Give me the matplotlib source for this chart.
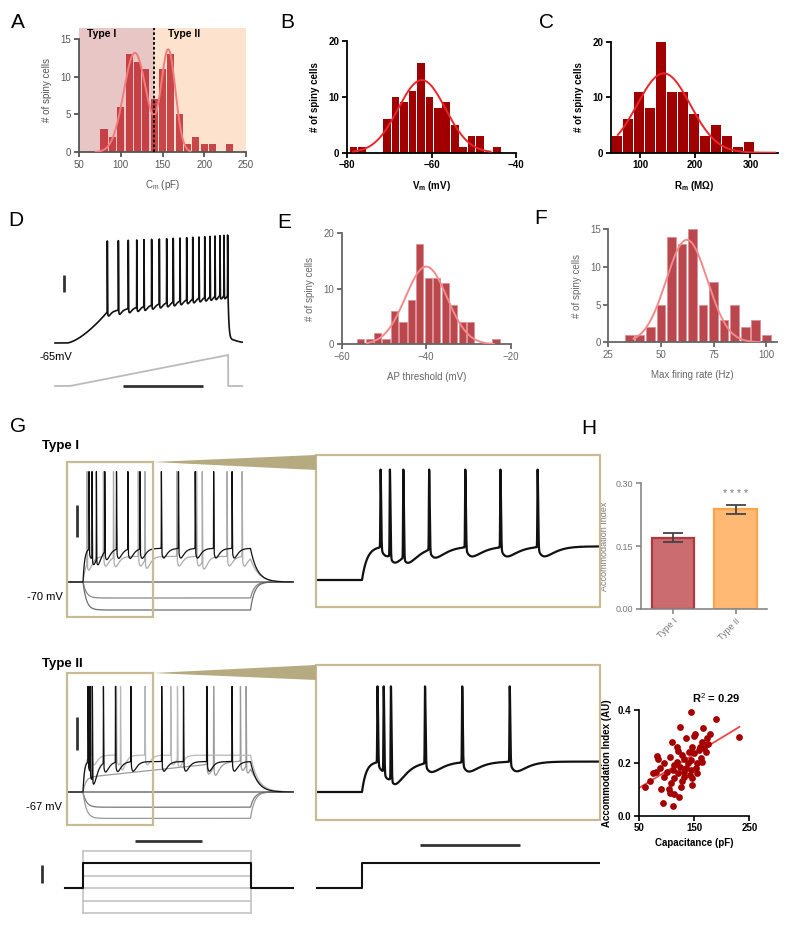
import numpy as np
import matplotlib
matplotlib.use("Agg")
import matplotlib.pyplot as plt
from matplotlib.patches import Rectangle, Polygon

plt.rcParams['font.family'] = ['Liberation Sans', 'DejaVu Sans']
plt.rcParams['mathtext.fontset'] = 'custom'
plt.rcParams['mathtext.rm'] = 'Liberation Sans'
plt.rcParams['mathtext.it'] = 'Liberation Sans:italic'
plt.rcParams['mathtext.bf'] = 'Liberation Sans:bold'

# ======================= DATA =======================
# A: membrane capacitance
cm_bins = [80, 90, 100, 110, 120, 130, 140, 150, 160, 170, 180, 190, 200, 210, 220, 230]
cm_counts = [3, 2, 6, 13, 12, 11, 7, 11, 13, 5, 1, 2, 1, 1, 0, 1]
cm_fit = [(13.2, 117, 13.5), (13.5, 157, 8.5)]   # two-gaussian fit (amp, mean, sd)
cm_fit_range = [70, 183]
cm_split = 140

# B: resting membrane potential
vm_bins = [-78.5, -76.5, -70.5, -68.5, -66.5, -64.5, -62.5, -60.5, -58.5, -56.5, -54.5, -52.5, -50.5, -48.5, -44.5]
vm_counts = [1, 1, 6, 10, 9, 11, 16, 10, 8, 9, 5, 1, 3, 3, 1]
vm_fit = (13.0, -62.3, 5.6)
vm_fit_range = [-78.5, -46]

# C: membrane resistance
rm_bins = [58, 78, 98, 118, 138, 158, 178, 198, 218, 238, 258, 278, 298]
rm_counts = [3, 6, 11, 8, 20, 11, 11, 7, 3, 5, 3, 1, 2]
rm_fit = (14.3, 143, 48)
rm_fit_range = [60, 345]

# E: AP threshold
ap_bins = [-55.5, -53.5, -51.5, -49.5, -47.5, -45.5, -43.5, -41.5, -39.5, -37.5, -35.5, -33.5, -31.5, -29.5, -23.5]
ap_counts = [1, 1, 2, 1, 6, 4, 8, 18, 12, 12, 11, 7, 4, 4, 1]
ap_fit = (14.0, -40.0, 4.9)
ap_fit_range = [-54, -24]

# F: max firing rate
fr_bins = [35, 40, 45, 50, 55, 60, 65, 70, 75, 80, 85, 90, 95, 100]
fr_counts = [1, 1, 2, 5, 14, 13, 15, 5, 8, 3, 5, 2, 3, 1]
fr_fit = (13.6, 62.3, 9.8)
fr_fit_range = [37, 97]

# H: accommodation index
acc_groups = ['Type I', 'Type II']
acc_mean = [0.170, 0.237]
acc_sem = [0.011, 0.011]

cap_pf = [145, 189, 232, 124, 166, 152, 178, 110, 136, 173, 165, 82, 85, 107, 121, 131,
          147, 150, 159, 168, 171, 162, 144, 138, 125, 114, 111, 120, 132, 144, 153, 156,
          165, 80, 96, 114, 132, 147, 147, 126, 108, 90, 107, 114, 123, 94, 111, 61,
          128, 140, 135, 118, 155, 142, 128, 100, 160, 175, 150, 104, 118, 95, 70, 75, 88]
acc_idx = [0.394, 0.365, 0.297, 0.335, 0.331, 0.309, 0.309, 0.280, 0.293, 0.293, 0.280, 0.226,
           0.214, 0.221, 0.246, 0.214, 0.261, 0.236, 0.249, 0.255, 0.242, 0.217, 0.211, 0.198,
           0.186, 0.192, 0.173, 0.161, 0.167, 0.173, 0.180, 0.161, 0.205, 0.167, 0.148, 0.142,
           0.148, 0.142, 0.116, 0.110, 0.123, 0.100, 0.087, 0.082, 0.070, 0.049, 0.038, 0.110,
           0.230, 0.240, 0.180, 0.205, 0.200, 0.155, 0.130, 0.165, 0.260, 0.270, 0.300, 0.100,
           0.260, 0.200, 0.130, 0.160, 0.180]
fit_x = [50, 232]
fit_y = [0.105, 0.336]
r2_text = 'R$^{2}$ = 0.29'

# D: ramp-evoked firing
d_rest = -65.0
d_depol_start = 75
d_first_v = -28.5
d_end_v = -6.0
d_spike_ms = [327, 396, 458, 511, 556, 604, 652, 698, 739, 781, 823, 861, 900, 936, 969,
              1000, 1031, 1056, 1079]
d_peak_mv = [55, 62]
d_ramp_ms = [94, 1082]
d_ramp_pa = 300
d_t_range = [0, 1170]

# G: step-evoked firing
g_step_ms = [0, 500]
g_stim_pa = [-100, -50, 0, 50, 100, 150]
g_stim_black_pa = 100
t1_rest = -70.0
t1_hyper = [-80.0, -87.5]
t1_black_spikes = [18, 27, 40, 65, 100, 134, 170, 234, 285, 335, 390, 445]
t1_black_plateau = -49.0
t1_gray_spikes = [12, 61, 91, 165, 185, 280, 339, 356, 430, 475]
t1_gray_plateau = -54.0
t1_peak = -1.0
t2_rest = -67.0
t2_hyper = [-76.5, -83.5]
t2_black_spikes = [15, 21, 28, 61, 97, 143, 235, 300, 370, 445]
t2_black_plateau = -48.0
t2_gray_a_spikes = [26, 100, 112, 185, 262, 282]
t2_gray_a_plateau = -44.0
t2_gray_b_spikes = [369, 390, 470, 487]
t2_gray_b_plateau = -58.0
t2_gray_b_drift = 11.0
t2_peak = -1.0

# ======================= FIGURE =======================
W, H = 800, 932
fig = plt.figure(figsize=(W / 100, H / 100), dpi=100)


def px_axes(x0, y0, x1, y1):
    return fig.add_axes([x0 / W, 1 - y1 / H, (x1 - x0) / W, (y1 - y0) / H])


def gauss(x, a, m, s):
    return a * np.exp(-(x - m) ** 2 / (2 * s * s))


def style(ax, color, bold, lw=1.3, size=7):
    for s in ['top', 'right']:
        ax.spines[s].set_visible(False)
    for s in ['left', 'bottom']:
        ax.spines[s].set_color(color)
        ax.spines[s].set_linewidth(lw)
    ax.tick_params(direction='out', length=3.5, width=lw, colors=color, labelsize=size, pad=2)
    for lab in ax.get_xticklabels() + ax.get_yticklabels():
        lab.set_color(color)
        if bold:
            lab.set_fontweight('bold')
    ax.patch.set_alpha(0)


# ---- A ----
axA = px_axes(79, 28, 246, 152)
axA.axvspan(50, cm_split, color='#e9c6c6', zorder=0, lw=0)
axA.axvspan(cm_split, 250, color='#fde3cd', zorder=0, lw=0)
axA.bar(cm_bins, cm_counts, width=8.6, color='#bf2a30', alpha=0.85, zorder=2, lw=0)
xx = np.linspace(*cm_fit_range, 300)
axA.plot(xx, sum(gauss(xx, *p) for p in cm_fit), color='#f47b7b', lw=1.4, zorder=3)
axA.axvline(cm_split, color='k', ls=(0, (1.5, 1.2)), lw=1.3, zorder=4)
axA.text(60, 15.7, 'Type I', fontsize=7.5, fontweight='bold', va='center')
axA.text(157, 15.7, 'Type II', fontsize=7.5, fontweight='bold', va='center')
axA.set_xlim(50, 250)
axA.set_ylim(0, 16.5)
axA.set_xticks([50, 100, 150, 200, 250])
axA.set_yticks([0, 5, 10, 15])
axA.spines['left'].set_bounds(0, 15)
axA.set_xlabel('C$_\\mathrm{m}$ (pF)', fontsize=7, color='#555', labelpad=6)
axA.set_ylabel('# of spiny cells', fontsize=7, color='#555', labelpad=6)
style(axA, '#555', False)

# ---- B ----
axB = px_axes(347, 41, 516, 152.7)
axB.bar(vm_bins, vm_counts, width=1.8, color='#a00000', lw=0, zorder=2)
xx = np.linspace(*vm_fit_range, 300)
axB.plot(xx, gauss(xx, *vm_fit), color='#e8262b', lw=1.4, zorder=3)
axB.set_xlim(-80, -40)
axB.set_ylim(0, 20)
axB.set_xticks([-80, -60, -40])
axB.set_yticks([0, 10, 20])
axB.set_xlabel('V$_\\mathbf{m}$ (mV)', fontsize=7, fontweight='bold', labelpad=6)
axB.set_ylabel('# of spiny cells', fontsize=7, fontweight='bold', labelpad=6)
style(axB, 'black', True)

# ---- C ----
axC = px_axes(610.7, 41.7, 778, 152.7)
axC.bar(rm_bins, rm_counts, width=18, color='#a00000', lw=0, zorder=2)
xx = np.linspace(*rm_fit_range, 300)
axC.plot(xx, gauss(xx, *rm_fit), color='#e8262b', lw=1.4, zorder=3)
axC.set_xlim(47, 350)
axC.set_ylim(0, 20)
axC.set_xticks([100, 200, 300])
axC.set_yticks([0, 10, 20])
axC.set_xlabel('R$_\\mathbf{m}$ (MΩ)', fontsize=7, fontweight='bold', labelpad=6)
axC.set_ylabel('# of spiny cells', fontsize=7, fontweight='bold', labelpad=6)
style(axC, 'black', True)

# ---- E ----
axE = px_axes(341.7, 233.3, 510.7, 344.3)
axE.bar(ap_bins, ap_counts, width=1.7, color='#b9474d', edgecolor='#dc8f93', lw=0.6, zorder=2)
xx = np.linspace(*ap_fit_range, 300)
axE.plot(xx, gauss(xx, *ap_fit), color='#f38a8a', lw=1.4, zorder=3)
axE.set_xlim(-60, -20)
axE.set_ylim(0, 20)
axE.set_xticks([-60, -40, -20])
axE.set_yticks([0, 10, 20])
axE.set_xlabel('AP threshold (mV)', fontsize=7, color='#666', labelpad=7)
axE.set_ylabel('# of spiny cells', fontsize=7, color='#666', labelpad=6)
style(axE, '#666', False)

# ---- F ----
axF = px_axes(608.3, 229.3, 776.7, 342.3)
axF.bar(fr_bins, fr_counts, width=4.2, color='#b9474d', edgecolor='#dc8f93', lw=0.6, zorder=2)
xx = np.linspace(*fr_fit_range, 300)
axF.plot(xx, gauss(xx, *fr_fit), color='#f38a8a', lw=1.4, zorder=3)
axF.set_xlim(25, 105)
axF.set_ylim(0, 15)
axF.set_xticks([25, 50, 75, 100])
axF.set_yticks([0, 5, 10, 15])
axF.set_xlabel('Max firing rate (Hz)', fontsize=7, color='#666', labelpad=7)
axF.set_ylabel('# of spiny cells', fontsize=7, color='#666', labelpad=6)
style(axF, '#666', False)

# ---- H bar ----
axH = px_axes(640.7, 483, 766.7, 609)
xpos = np.arange(len(acc_groups))
axH.bar(xpos, acc_mean, width=0.68, color=['#ca6c70', '#ffb974'],
        edgecolor=['#b3383e', '#ffa24a'], lw=1.6, zorder=2)
axH.errorbar(xpos, acc_mean, yerr=acc_sem, fmt='none', ecolor='#444', elinewidth=1.3,
             capsize=7, capthick=1.3, zorder=3)
axH.text(1, 0.274, '* * * *', ha='center', va='center', fontsize=7.5, color='#777')
axH.set_xlim(-0.52, 1.5)
axH.set_ylim(0, 0.30)
axH.set_yticks([0, 0.15, 0.30])
axH.set_yticklabels(['0.00', '0.15', '0.30'])
axH.set_xticks(xpos)
axH.set_xticklabels(acc_groups, rotation=45, ha='right', rotation_mode='anchor')
axH.set_ylabel('Accommodation Index', fontsize=6.5, color='#777', labelpad=5)
style(axH, '#888', False, lw=1.2, size=6.5)
for lab in axH.get_xticklabels() + axH.get_yticklabels():
    lab.set_color('#777')

# ---- H scatter ----
axS = px_axes(639, 710, 749.3, 815.7)
axS.scatter(cap_pf, acc_idx, s=24, color='#a50000', lw=0, zorder=3, clip_on=False)
axS.plot(fit_x, fit_y, color='#f04545', lw=1.3, zorder=2)
axS.text(190, 0.446, r2_text, ha='center', va='center', fontsize=8, fontweight='bold')
axS.set_xlim(50, 250)
axS.set_ylim(0, 0.4)
axS.set_xticks([50, 150, 250])
axS.set_yticks([0, 0.2, 0.4])
axS.set_xlabel('Capacitance (pF)', fontsize=7, fontweight='bold', labelpad=3)
axS.set_ylabel('Accommodation Index (AU)', fontsize=7, fontweight='bold', labelpad=4)
style(axS, 'black', True, lw=1.2)


# ======================= TRACES =======================
def trace_axes(x0, y0, x1, y1, tx, t0, sx, vy, v0, sy):
    ax = px_axes(x0, y0, x1, y1)
    ax.set_xlim(t0 + (x0 - tx) / sx, t0 + (x1 - tx) / sx)
    ax.set_ylim(v0 - (y1 - vy) / sy, v0 + (vy - y0) / sy)
    ax.axis('off')
    ax.patch.set_alpha(0)
    return ax


def step_base(t, rest, plateau, t_on, t_off, tau_on, tau_off, drift=0.0):
    v = np.full(t.shape, rest, float)
    amp = plateau - rest
    m = (t >= t_on) & (t < t_off)
    v[m] = rest + amp * (1 - np.exp(-(t[m] - t_on) / tau_on)) + drift * (t[m] - t_on) / (t_off - t_on)
    end = amp * (1 - np.exp(-(t_off - t_on) / tau_on)) + drift
    m = t >= t_off
    v[m] = rest + end * np.exp(-(t[m] - t_off) / tau_off)
    return v


def add_spikes(t, v, spikes, peaks, w_rise=0.35, w_fall=0.75, ahp=6.0, tau_ahp=7.0):
    v = v.copy()
    for ts in spikes:
        m = t > ts
        x = (t[m] - ts) / tau_ahp
        v[m] -= ahp * x * np.exp(1 - x)
    out = v.copy()
    for ts, pk in zip(spikes, peaks):
        i = np.argmin(np.abs(t - ts))
        a = pk - v[i]
        x = t - ts
        w = np.where(x < 0, w_rise, w_fall)
        out += a * np.exp(-(x / w) ** 2)
    return out


# ---- D ----
tD = np.arange(d_t_range[0], d_t_range[1], 0.05)
vD = np.full(tD.shape, d_rest)
t_first = d_spike_ms[0]
m = (tD >= d_depol_start) & (tD < t_first)
vD[m] = d_rest + (d_first_v - d_rest) * ((tD[m] - d_depol_start) / (t_first - d_depol_start)) ** 1.5
m = (tD >= t_first) & (tD < d_ramp_ms[1])
vD[m] = d_first_v + (d_end_v - d_first_v) * (tD[m] - t_first) / (d_ramp_ms[1] - t_first)
m = tD >= d_ramp_ms[1]
dt = tD[m] - d_ramp_ms[1]
vD[m] = d_rest + (d_end_v - d_rest) * (0.8 * np.exp(-dt / 6) + 0.2 * np.exp(-dt / 35))
peaksD = np.linspace(d_peak_mv[0], d_peak_mv[1], len(d_spike_ms))
vD = add_spikes(tD, vD, d_spike_ms, peaksD, w_rise=0.6, w_fall=1.4, ahp=5.0, tau_ahp=9.0)
axD = trace_axes(45, 225, 250, 350, tx=55, t0=0, sx=0.16, vy=343, v0=d_rest, sy=0.85)
axD.plot(tD, vD, color='#111', lw=1.2)

sD = np.zeros_like(tD)
m = (tD >= d_ramp_ms[0]) & (tD < d_ramp_ms[1])
sD[m] = d_ramp_pa * (tD[m] - d_ramp_ms[0]) / (d_ramp_ms[1] - d_ramp_ms[0])
axDs = trace_axes(45, 350, 250, 395, tx=55, t0=0, sx=0.16, vy=386, v0=0, sy=31 / d_ramp_pa)
axDs.plot(tD, sD, color='#bbbbbb', lw=1.3)

# ---- G left traces ----
tL = np.arange(-48, 627, 0.05)
tR = np.arange(-44, 229, 0.02)


def typeI_black(t):
    b = step_base(t, t1_rest, t1_black_plateau, 0, 500, 5, 20)
    return add_spikes(t, b, t1_black_spikes, [t1_peak] * len(t1_black_spikes))


def typeII_black(t):
    b = step_base(t, t2_rest, t2_black_plateau, 0, 500, 4, 20)
    return add_spikes(t, b, t2_black_spikes, [t2_peak] * len(t2_black_spikes))


axL1 = trace_axes(60, 458, 300, 622, tx=83, t0=0, sx=0.335, vy=582, v0=t1_rest, sy=1.6)
for lvl, col in zip(t1_hyper, ['#888888', '#6e6e6e']):
    axL1.plot(tL, step_base(tL, t1_rest, lvl, 0, 500, 10, 12), color=col, lw=0.9)
axL1.plot(tL, np.full_like(tL, t1_rest), color='#555', lw=0.9)
g1 = add_spikes(tL, step_base(tL, t1_rest, t1_gray_plateau, 0, 500, 10, 22), t1_gray_spikes,
                [t1_peak] * len(t1_gray_spikes))
axL1.plot(tL, g1, color='#ababab', lw=0.9)
axL1.plot(tL, typeI_black(tL), color='#111', lw=0.9)

axL2 = trace_axes(60, 668, 300, 830, tx=83, t0=0, sx=0.335, vy=792, v0=t2_rest, sy=1.6)
for lvl, col in zip(t2_hyper, ['#777777', '#999999']):
    axL2.plot(tL, step_base(tL, t2_rest, lvl, 0, 500, 10, 12), color=col, lw=0.9)
axL2.plot(tL, np.full_like(tL, t2_rest), color='#555', lw=0.9)
gb = add_spikes(tL, step_base(tL, t2_rest, t2_gray_b_plateau, 0, 500, 8, 22, drift=t2_gray_b_drift),
                t2_gray_b_spikes, [t2_peak] * len(t2_gray_b_spikes))
axL2.plot(tL, gb, color='#9a9a9a', lw=0.9)
ga = add_spikes(tL, step_base(tL, t2_rest, t2_gray_a_plateau, 0, 500, 6, 22), t2_gray_a_spikes,
                [t2_peak] * len(t2_gray_a_spikes))
axL2.plot(tL, ga, color='#b8b8b8', lw=0.9)
axL2.plot(tL, typeII_black(tL), color='#111', lw=0.9)

# ---- G right (zoomed) traces ----
axR1 = trace_axes(316, 455, 600, 607, tx=362, t0=0, sx=1.033, vy=580, v0=t1_rest, sy=1.6)
axR1.plot(tR, typeI_black(tR), color='#111', lw=1.6)
axR2 = trace_axes(316, 665, 600, 820, tx=362, t0=0, sx=1.033, vy=792, v0=t2_rest, sy=1.6)
axR2.plot(tR, typeII_black(tR), color='#111', lw=1.6)

# ---- stimulus ----
axSt = trace_axes(55, 840, 300, 925, tx=83, t0=0, sx=0.335, vy=888, v0=0, sy=0.25)
on, off = g_step_ms
for lvl in g_stim_pa:
    if lvl != g_stim_black_pa:
        axSt.plot([on, off], [lvl, lvl], color='#c4c4c4', lw=1.2)
for tt in (on, off):
    axSt.plot([tt, tt], [min(g_stim_pa), max(g_stim_pa)], color='#c4c4c4', lw=1.2)
tS = np.array([-54, on, on, off, off, 627])
sS = np.array([0, 0, g_stim_black_pa, g_stim_black_pa, 0, 0])
axSt.plot(tS, sS, color='#111', lw=1.5)

axSt2 = trace_axes(316, 840, 600, 900, tx=362, t0=0, sx=1.033, vy=888, v0=0, sy=0.25)
axSt2.plot([-44, 0, 0, 229], [0, 0, g_stim_black_pa, g_stim_black_pa], color='#111', lw=1.5)

# ======================= OVERLAY =======================
ov = fig.add_axes([0, 0, 1, 1])
ov.set_xlim(0, W)
ov.set_ylim(H, 0)
ov.axis('off')
ov.patch.set_alpha(0)

box_col = '#c6bb93'
for (x0, y0, x1, y1) in [(67, 462, 153, 617), (316, 455, 600, 607), (67, 673, 153, 825), (316, 665, 600, 820)]:
    ov.add_patch(Rectangle((x0, y0), x1 - x0, y1 - y0, fill=False, ec=box_col, lw=1.6))
ov.add_patch(Polygon([(153, 462), (316, 455), (316, 470)], closed=True, fc='#b5aa80', ec='none'))
ov.add_patch(Polygon([(153, 673), (316, 665), (316, 680)], closed=True, fc='#b5aa80', ec='none'))

# scale bars
bars = [((64, 275), (64, 292)), ((123, 386), (203, 386)), ((77, 505), (77, 537)),
        ((77, 717), (77, 750)), ((135, 841), (202, 841)), ((420, 845), (520, 845)),
        ((42, 865), (42, 883))]
for (a, b) in bars:
    ov.plot([a[0], b[0]], [a[1], b[1]], color='#333', lw=2.0, solid_capstyle='butt')

ov.text(72, 357, '-65mV', fontsize=8, ha='right', va='center')
ov.text(63, 597, '-70 mV', fontsize=8, ha='right', va='center')
ov.text(62, 807, '-67 mV', fontsize=8, ha='right', va='center')
ov.text(42, 446, 'Type I', fontsize=9.5, fontweight='bold', ha='left', va='center')
ov.text(42, 664, 'Type II', fontsize=9.5, fontweight='bold', ha='left', va='center')

for lab, x, y in [('A', 17.5, 22), ('B', 287, 22), ('C', 547, 22), ('D', 15.5, 221),
                  ('E', 284.5, 222), ('F', 541, 219), ('G', 18, 427), ('H', 589, 428)]:
    ov.text(x, y, lab, fontsize=15, ha='center', va='center')

fig.savefig('out.png', dpi=100)
